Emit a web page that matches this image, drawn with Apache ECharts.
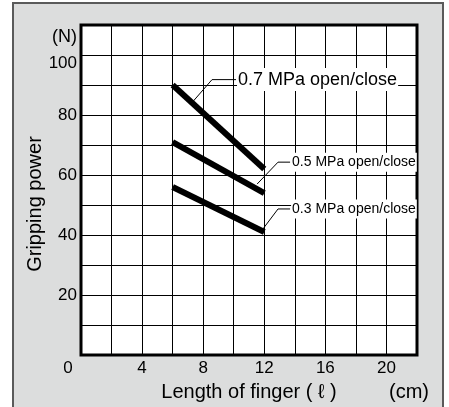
<!DOCTYPE html>
<html>
<head>
<meta charset="utf-8">
<script src="https://cdn.jsdelivr.net/npm/echarts@6/dist/echarts.min.js"></script>
<style>
html,body{margin:0;padding:0;background:#fff;}
#chart{width:449px;height:407px;}
</style>
</head>
<body>
<div id="chart"></div>
<script>
// ---- data ----
const fingerLength = [6, 12];              // cm
const power07 = [90, 62];                  // N, 0.7 MPa
const power05 = [71, 54];                  // N, 0.5 MPa
const power03 = [56, 41];                  // N, 0.3 MPa
const seriesNames = ['0.7 MPa open/close', '0.5 MPa open/close', '0.3 MPa open/close'];
const xTickLabels = [0, 4, 8, 12, 16, 20];
const yTickLabels = [20, 40, 60, 80, 100];
// leader lines for the annotation labels (data units)
const leader07X = [7.33, 8.58, 10.15];
const leader07Y = [84.5, 91.8, 91.8];
const leader05X = [11.53, 12.9, 13.69];
const leader05Y = [57.0, 64.3, 64.3];
const leader03X = [11.85, 12.9, 13.69];
const leader03Y = [41.6, 48.7, 48.7];

const zip = (xs, ys) => xs.map((x, i) => [x, ys[i]]);
const FONT = 'Liberation Sans, Arial, sans-serif';

function dataLine(name, ys) {
  return {
    name, type: 'line', data: zip(fingerLength, ys), symbol: 'none', silent: true, z: 5,
    lineStyle: { color: '#000', width: 6, cap: 'butt' }
  };
}
function leader(name, xs, ys, size) {
  return {
    name: name + ' leader', type: 'line', data: zip(xs, ys), symbol: 'none', silent: true, z: 6,
    lineStyle: { color: '#000', width: 1 },
    endLabel: {
      show: true, formatter: name, color: '#000', fontFamily: FONT, fontSize: size,
      backgroundColor: '#fff', padding: [3, 1, 2, 1], distance: 1
    }
  };
}

const chart = echarts.init(document.getElementById('chart'), null, { renderer: 'canvas' });
chart.setOption({
  animation: false,
  backgroundColor: 'transparent',
  graphic: [
    { type: 'rect', z: -100, shape: { x: 13, y: 3, width: 430, height: 420 },
      style: { fill: '#dcdddd', stroke: '#5a5a5a', lineWidth: 2 } },
    { type: 'text', z: 10, x: 35, y: 204, rotation: Math.PI / 2,
      style: { text: 'Gripping power', font: '20px ' + FONT, fill: '#000', align: 'center', verticalAlign: 'middle' } },
    { type: 'text', z: 10, x: 409, y: 392,
      style: { text: '(cm)', font: '20px ' + FONT, fill: '#000', align: 'center', verticalAlign: 'middle' } }
  ],
  grid: { left: 81, right: 32, top: 25, bottom: 50, show: true, backgroundColor: '#fff',
          borderColor: '#000', borderWidth: 3 },
  xAxis: {
    type: 'value', min: 0, max: 22, interval: 2,
    name: 'Length of finger ( ℓ )', nameLocation: 'middle', nameGap: 35,
    nameTextStyle: { fontFamily: FONT, fontSize: 20, color: '#000', verticalAlign: 'middle' },
    axisLine: { show: false }, axisTick: { show: false },
    splitLine: { show: true, lineStyle: { color: '#000', width: 1 } },
    axisLabel: {
      margin: 5, fontFamily: FONT, fontSize: 17, color: '#000',
      formatter: v => xTickLabels.indexOf(v) < 0 ? '' : (v === 0 ? '{z|0}' : String(v)),
      rich: { z: { fontFamily: FONT, fontSize: 17, color: '#000', padding: [0, 26, 0, 0] } }
    }
  },
  yAxis: {
    type: 'value', min: 0, max: 110, interval: 10,
    name: '(N)', nameLocation: 'end', nameGap: -12,
    nameTextStyle: { fontFamily: FONT, fontSize: 18, color: '#000', align: 'right', verticalAlign: 'middle', padding: [0, 4, 0, 0] },
    axisLine: { show: false }, axisTick: { show: false },
    splitLine: { show: true, lineStyle: { color: '#000', width: 1 } },
    axisLabel: {
      margin: 4, fontFamily: FONT, fontSize: 17, color: '#000',
      formatter: v => yTickLabels.indexOf(v) < 0 ? '' : (v === 100 ? '{t|100}' : String(v)),
      rich: { t: { fontFamily: FONT, fontSize: 17, color: '#000', padding: [16, 0, 0, 0] } }
    }
  },
  series: [
    dataLine(seriesNames[0], power07),
    dataLine(seriesNames[1], power05),
    dataLine(seriesNames[2], power03),
    leader(seriesNames[0], leader07X, leader07Y, 18),
    leader(seriesNames[1], leader05X, leader05Y, 14),
    leader(seriesNames[2], leader03X, leader03Y, 14)
  ]
});
</script>
</body>
</html>
